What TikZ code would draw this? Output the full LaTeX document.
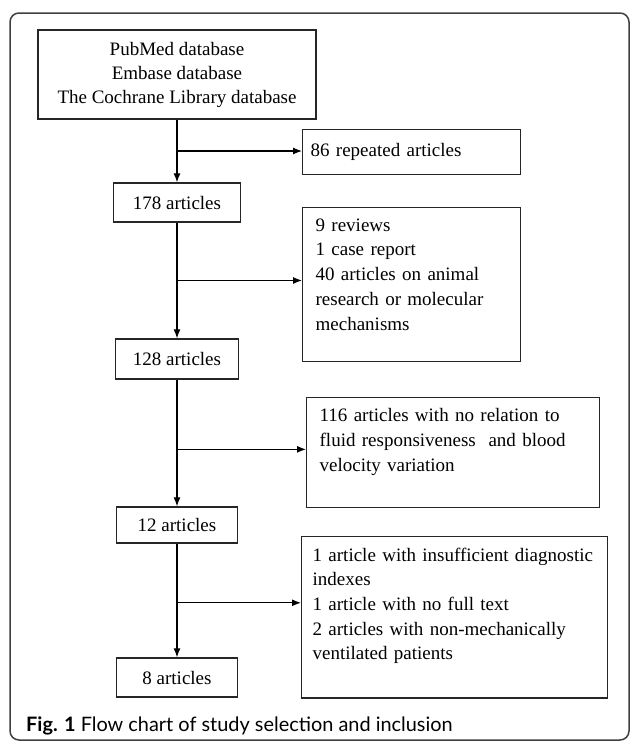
\documentclass[tikz,border=0pt]{standalone}
\usepackage{fontspec}
\setmainfont{Liberation Serif}
\newfontfamily\capfont{Lato}
\usetikzlibrary{arrows.meta, calc, positioning}

\tikzset{
    flowbox/.style={draw=black!85, line width=1.3pt, rectangle, align=center,
        font=\fontsize{19}{24}\selectfont},
    sidebox/.style={flowbox, align=left, anchor=north west,
        font=\fontsize{19}{24.7}\selectfont, inner xsep=13pt, inner ysep=11pt},
    flowline/.style={line width=1.2pt, -{Latex[length=9pt,width=7pt]}}
}

\begin{document}
\begin{tikzpicture}[x=1pt, y=-1pt]
    \useasboundingbox (0,0) rectangle (630,742);
    \draw[black!75, line width=1.5pt, rounded corners=9pt] (10,13) rectangle (629,740);

    % main column
    \node[flowbox, minimum width=278pt, minimum height=89pt] (db) at (177,74.5)
        {PubMed database\\Embase database\\The Cochrane Library database};
    \node[flowbox, minimum width=127pt, minimum height=39pt] (n178) at (177,202.5) {178 articles};
    \node[flowbox, minimum width=123pt, minimum height=40pt] (n128) at (177,359) {128 articles};
    \node[flowbox, minimum width=121pt, minimum height=36pt] (n12) at (177,525) {12 articles};
    \node[flowbox, minimum width=121pt, minimum height=39pt] (n8) at (177,677.5) {8 articles};

    % excluded
    \node[sidebox, inner xsep=8pt, inner ysep=10pt, text width=202pt, minimum height=45pt] (rep) at (302,129)
        {86 repeated articles};
    \node[sidebox, text width=192pt, text depth=119pt] (rev) at (302,207)
        {9 reviews\\1 case report\\40 articles on animal\\research or molecular\\mechanisms};
    \node[sidebox, text width=267pt, text depth=74.5pt] (rel) at (306,397)
        {116 articles with no relation to\\fluid responsiveness~ and blood\\velocity variation};
    \node[sidebox, inner xsep=11pt, text width=284pt, text depth=126pt] (exc) at (301,536)
        {1 article with insufficient diagnostic\\indexes\\1 article with no full text\\2 articles with non-mechanically\\ventilated patients};

    \foreach \a/\b/\s/\f in {db/n178/rep/0.5, n178/n128/rev/0.5, n128/n12/rel/0.55, n12/n8/exc/0.52} {
        \draw[flowline] (\a.south) -- (\a.south |- \b.north);
        \coordinate (mid-\a) at ($(\a.south)!\f!(\a.south |- \b.north)$);
        \draw[flowline] (mid-\a) -- (mid-\a -| \s.west);
    };

    \node[anchor=base west, inner sep=0pt, font=\capfont\fontsize{19.9}{22}\selectfont] (caption) at (26,731)
        {\textbf{Fig. 1} Flow chart of study selection and inclusion};
\end{tikzpicture}
\end{document}
